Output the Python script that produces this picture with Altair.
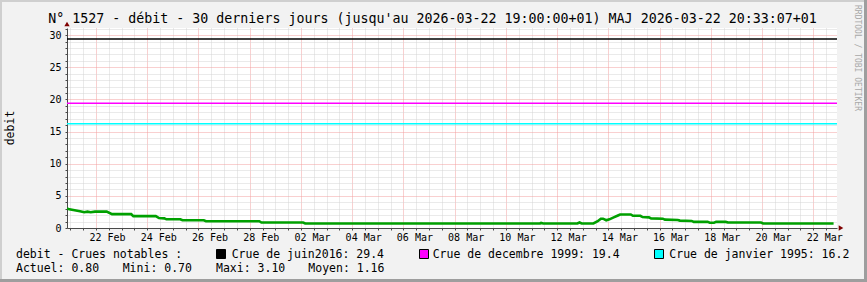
import altair as alt
import pandas as pd

# ---------------- data ----------------
times = [
    "2026-02-20T20:50:00Z", "2026-02-20T23:00:00Z", "2026-02-21T04:00:00Z", "2026-02-21T09:00:00Z",
    "2026-02-21T13:00:00Z", "2026-02-21T16:00:00Z", "2026-02-21T19:00:00Z", "2026-02-21T23:00:00Z",
    "2026-02-22T10:00:00Z", "2026-02-22T15:00:00Z", "2026-02-23T09:00:00Z", "2026-02-23T11:00:00Z",
    "2026-02-24T08:00:00Z", "2026-02-24T11:00:00Z", "2026-02-24T16:00:00Z", "2026-02-24T18:00:00Z",
    "2026-02-25T07:00:00Z", "2026-02-25T09:00:00Z", "2026-02-26T05:00:00Z", "2026-02-26T07:00:00Z",
    "2026-02-28T09:00:00Z", "2026-02-28T11:00:00Z", "2026-03-02T02:00:00Z", "2026-03-02T04:00:00Z",
    "2026-03-11T08:00:00Z", "2026-03-11T09:00:00Z", "2026-03-11T11:00:00Z", "2026-03-12T19:00:00Z",
    "2026-03-12T21:00:00Z", "2026-03-12T23:00:00Z", "2026-03-13T10:00:00Z", "2026-03-13T14:00:00Z",
    "2026-03-13T17:00:00Z", "2026-03-13T19:00:00Z", "2026-03-13T22:00:00Z", "2026-03-14T01:00:00Z",
    "2026-03-14T05:00:00Z", "2026-03-14T09:00:00Z", "2026-03-14T11:00:00Z", "2026-03-14T21:00:00Z",
    "2026-03-14T23:00:00Z", "2026-03-15T06:00:00Z", "2026-03-15T08:00:00Z", "2026-03-15T14:00:00Z",
    "2026-03-15T16:00:00Z", "2026-03-16T03:00:00Z", "2026-03-16T05:00:00Z", "2026-03-16T17:00:00Z",
    "2026-03-16T19:00:00Z", "2026-03-17T06:00:00Z", "2026-03-17T08:00:00Z", "2026-03-17T21:00:00Z",
    "2026-03-17T23:00:00Z", "2026-03-18T03:00:00Z", "2026-03-18T05:00:00Z", "2026-03-18T14:00:00Z",
    "2026-03-18T16:00:00Z", "2026-03-19T23:00:00Z", "2026-03-20T01:00:00Z", "2026-03-22T19:00:00Z",
]
debit = [
    3.05, 2.90, 2.75, 2.60,
    2.45, 2.55, 2.45, 2.55,
    2.55, 2.15, 2.15, 1.85,
    1.85, 1.55, 1.50, 1.35,
    1.35, 1.20, 1.20, 1.05,
    1.05, 0.85, 0.85, 0.70,
    0.70, 0.78, 0.70, 0.70,
    0.85, 0.70, 0.70, 1.05,
    1.45, 1.45, 1.20, 1.35,
    1.65, 1.95, 2.10, 2.10,
    1.90, 1.90, 1.70, 1.65,
    1.50, 1.45, 1.30, 1.25,
    1.15, 1.10, 0.95, 0.95,
    0.82, 0.82, 0.95, 0.95,
    0.85, 0.85, 0.70, 0.70,
]

crue_labels = ["Crue de juin2016", "Crue de decembre 1999", "Crue de janvier 1995"]
crue_values = [29.4, 19.4, 16.2]
crue_colors = ["#000000", "#FF00FF", "#00FFFF"]

stat_labels = ["Actuel", "Mini", "Maxi", "Moyen"]
stat_values = [0.80, 0.70, 3.10, 1.16]

title_text = "N° 1527 - débit - 30 derniers jours (jusqu'au 2026-03-22 19:00:00+01) MAJ 2026-03-22 20:33:07+01"
legend_head = "debit - Crues notables :"
y_title = "debit"
watermark = "RRDTOOL / TOBI OETIKER"

x_domain = ["2026-02-20T20:50:00Z", "2026-03-22T22:12:00Z"]
y_domain = [0.0, 31.1]
y_ticks = [float(v) for v in range(0, 32)]
x_ticks = [int(t.value // 1_000_000) for t in
           pd.date_range("2026-02-21", "2026-03-22 12:00", freq="12h", tz="UTC")]

# ---------------- layout ----------------
W, H = 770, 200
PAD_L, PAD_T = 67, 28
FONT = "DejaVu Sans Mono"
MAJOR = "#F3A0A0"
MINOR = "#D4D4D4"
AXIS = "#4A4A4A"
ARROW = "#7F0000"

df = pd.DataFrame({"t": times, "v": debit})

xscale = alt.Scale(type="utc", domain=x_domain)
yscale = alt.Scale(domain=y_domain, nice=False, zero=False)

x_axis = alt.Axis(
    values=x_ticks, title=None, grid=True,
    gridColor={"condition": {"test": "datum.value % 172800000 === 0", "value": MAJOR}, "value": MINOR},
    gridDash=[1, 1], gridWidth=1,
    labelExpr="datum.value % 172800000 === 0 ? utcFormat(datum.value, '%d %b') : ''",
    labelFont=FONT, labelFontSize=10, labelColor="#000000", labelOffset=11,
    labelAlign="center", labelPadding=2, labelFlush=False, labelOverlap=False,
    tickSize=2, tickColor=AXIS, domainColor=AXIS, domainWidth=1,
)
y_axis = alt.Axis(
    values=y_ticks, title=None, grid=True,
    gridColor={"condition": {"test": "datum.value % 5 === 0", "value": MAJOR}, "value": MINOR},
    gridDash=[1, 1], gridWidth=1,
    labelExpr="datum.value % 5 === 0 ? format(datum.value, 'd') : ''",
    labelFont=FONT, labelFontSize=10, labelColor="#000000", labelPadding=4,
    labelOverlap=False, labelFlush=False,
    tickSize=2, tickColor=AXIS, domainColor=AXIS, domainWidth=1,
)

line = alt.Chart(df).mark_line(color="#00A000", strokeWidth=2.6, interpolate="linear", clip=True).encode(
    x=alt.X("t:T", scale=xscale, axis=x_axis),
    y=alt.Y("v:Q", scale=yscale, axis=y_axis),
)

crue_df = pd.DataFrame({"label": crue_labels, "value": crue_values, "color": crue_colors})
rules = alt.Chart(crue_df).mark_rule(strokeWidth=1.5).encode(
    y=alt.Y("value:Q", scale=yscale, axis=None),
    color=alt.Color("color:N", scale=None, legend=None),
    x=alt.value(0), x2=alt.value(W),
)

one = pd.DataFrame({"k": [0]})


def text_at(txt, x, y, size=11.5, **kw):
    return alt.Chart(one).mark_text(
        text=txt, font=FONT, fontSize=size, align=kw.pop("align", "left"),
        baseline=kw.pop("baseline", "alphabetic"), color=kw.pop("color", "#000000"), **kw
    ).encode(x=alt.value(x), y=alt.value(y))


layers = [line, rules]

# title
layers.append(text_at(title_text, 432.5 - PAD_L, 22.5 - PAD_T, size=13.3, align="center"))
# y title
layers.append(text_at(y_title, 10.5 - PAD_L, 128 - PAD_T, align="center", baseline="middle", angle=270))
# watermark
layers.append(text_at(watermark, 857 - PAD_L, 5 - PAD_T, size=8, color="#A8A8A8",
                      baseline="middle", angle=90))

# legend line 1
L1 = 258 - PAD_T
layers.append(text_at(legend_head, 16 - PAD_L, L1))
sq_x = [216, 419, 654]
tx_x = [231.7, 432.7, 669.3]
for lab, val, col, sx, tx in zip(crue_labels, crue_values, crue_colors, sq_x, tx_x):
    layers.append(
        alt.Chart(one).mark_rect(color=col, stroke="#000000", strokeWidth=1).encode(
            x=alt.value(sx + 0.5 - PAD_L), x2=alt.value(sx + 9.5 - PAD_L),
            y=alt.value(249.5 - PAD_T), y2=alt.value(258.5 - PAD_T),
        )
    )
    layers.append(text_at(f"{lab}: {val:.1f}", tx - PAD_L, L1))

# legend line 2
L2 = 272 - PAD_T
st_x = [16, 122.7, 216, 308.3]
for lab, val, sx in zip(stat_labels, stat_values, st_x):
    layers.append(text_at(f"{lab}: {val:.2f}", sx - PAD_L, L2))

# axis arrows
layers.append(
    alt.Chart(one).mark_point(shape="triangle-up", filled=True, color=ARROW, size=28, opacity=1).encode(
        x=alt.value(0), y=alt.value(-4))
)
layers.append(
    alt.Chart(one).mark_point(shape="triangle-right", filled=True, color=ARROW, size=28, opacity=1).encode(
        x=alt.value(W + 4), y=alt.value(H))
)

# frame of the image
frame = [
    (0, 867, 0, 2, "#CFCFCF"),
    (0, 2, 0, 282, "#CFCFCF"),
    (0, 867, 279, 282, "#9E9E9E"),
    (864, 867, 0, 282, "#9E9E9E"),
]
for x1, x2, y1, y2, col in frame:
    layers.append(
        alt.Chart(one).mark_rect(color=col).encode(
            x=alt.value(x1 - PAD_L), x2=alt.value(x2 - PAD_L),
            y=alt.value(y1 - PAD_T), y2=alt.value(y2 - PAD_T),
        )
    )

chart = alt.layer(*layers).resolve_axis(y="independent", x="independent").properties(
    width=W, height=H,
    autosize=alt.AutoSizeParams(type="none"),
    padding={"left": PAD_L, "top": PAD_T, "right": 867 - PAD_L - W, "bottom": 282 - PAD_T - H},
    background="#F2F2F2",
).configure_view(fill="#FFFFFF", stroke=None)

chart.save("out.html", embed_options={"renderer": "svg", "actions": False})
